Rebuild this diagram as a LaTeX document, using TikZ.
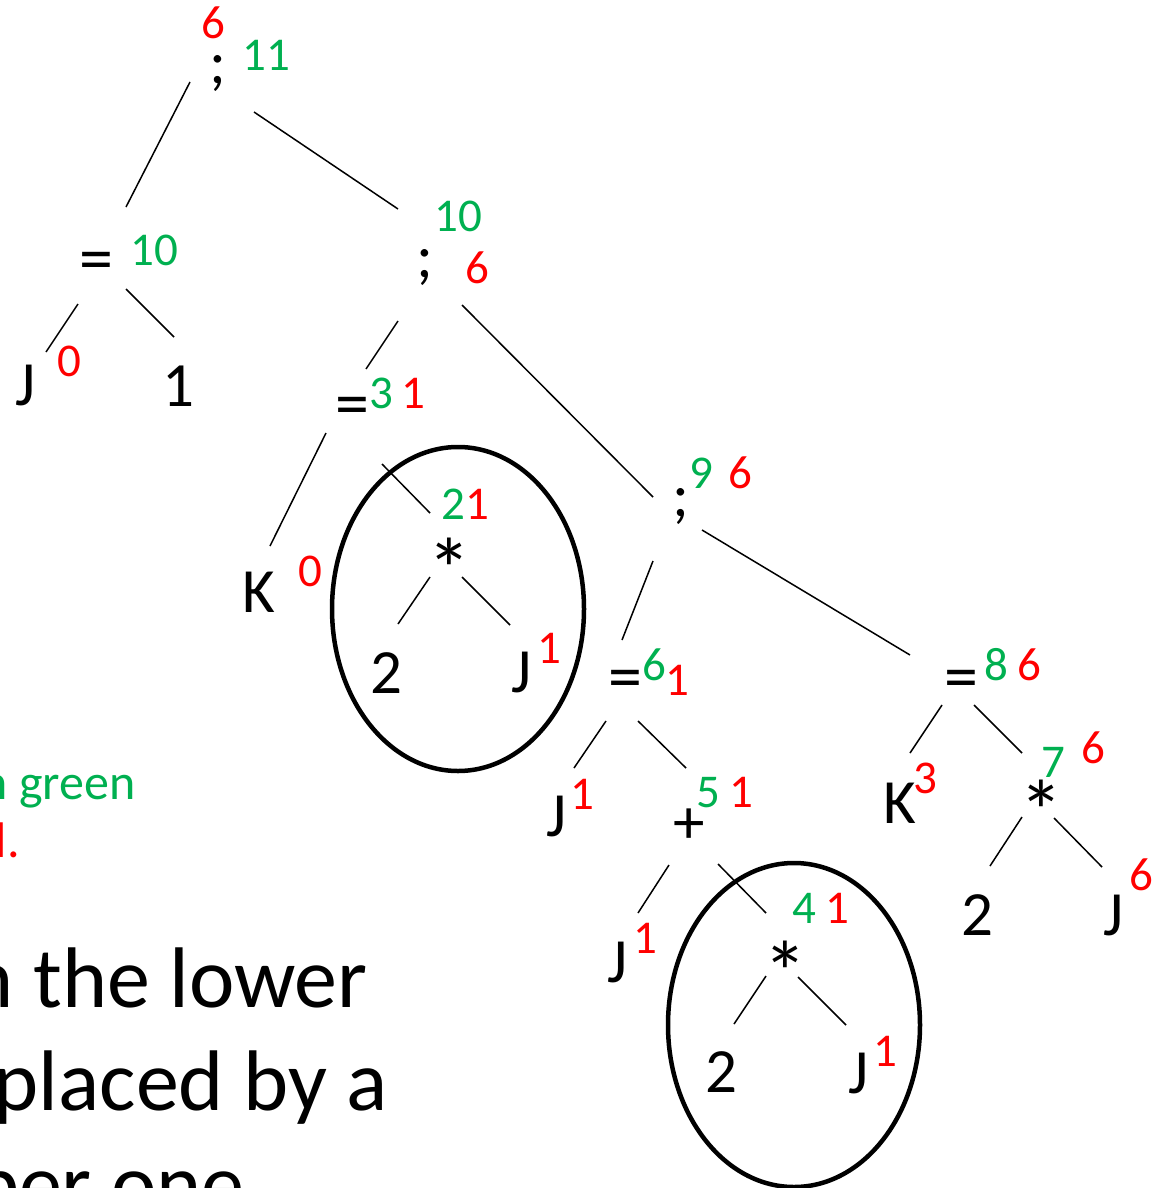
\documentclass[tikz,border=0pt]{standalone}
\usepackage{fontspec}
\setmainfont{Carlito}
\usetikzlibrary{shapes.geometric}
\definecolor{ogreen}{HTML}{00B050}
\definecolor{ored}{HTML}{FF0000}
\tikzset{
  sym/.style={font=\fontsize{63}{63}\selectfont, inner sep=0pt, anchor=base},
  eqs/.style={font=\fontsize{68}{68}\selectfont, inner sep=0pt, anchor=base},
  stars/.style={font=\fontsize{88}{88}\selectfont, inner sep=0pt, anchor=base},
  gnum/.style={font=\fontsize{47}{47}\selectfont, text=ogreen, inner sep=0pt, anchor=base},
  rnum/.style={font=\fontsize{47}{47}\selectfont, text=ored, inner sep=0pt, anchor=base},
  edge/.style={line width=1.5pt},
  ring/.style={line width=4.5pt},
  note/.style={font=\fontsize{50}{50}\selectfont, inner sep=0pt, anchor=base east},
  big/.style={font=\fontsize{86}{86}\selectfont, inner sep=0pt, anchor=base east}
}
\newcommand\seg[3]{\coordinate (#1a) at (#2); \coordinate (#1b) at (#3); \draw[edge] (#1a) -- (#1b);}
\begin{document}
\begin{tikzpicture}[x=1pt,y=-1pt]
\useasboundingbox (0,0) rectangle (1163,1188);
\clip (0,0) rectangle (1163,1188);
% black symbols
\node[sym] (root) at (217.5,84) {;};
\node[eqs] (eqA) at (96.5,281) {=};
\node[sym] (J1) at (26,405) {J};
\node[sym] (one1) at (178.5,406) {1};
\node[sym] (semB) at (425,277) {;};
\node[eqs] (eqB) at (352.5,426) {=};
\node[sym] (K1) at (258.5,612) {K};
\node[stars] (star1) at (449,600) {*};
\node[sym] (two1) at (386,693) {2};
\node[sym] (J2) at (521.5,692) {J};
\node[sym] (semC) at (681,516) {;};
\node[eqs] (eqC) at (625,699) {=};
\node[sym] (J3) at (556.5,836) {J};
\node[sym] (plus) at (689,843) {+};
\node[sym] (J4) at (617.5,982) {J};
\node[stars] (star2) at (785,1003) {*};
\node[sym] (two2) at (721,1092) {2};
\node[sym] (J5) at (858.5,1093) {J};
\node[eqs] (eqD) at (961.5,699) {=};
\node[sym] (K2) at (899.5,823) {K};
\node[stars] (star3) at (1041.5,842) {*};
\node[sym] (two3) at (977,935) {2};
\node[sym] (J6) at (1113.5,935) {J};
% attribute numbers
\node[rnum] (r1) at (213,39) {6};
\node[gnum] (g1) at (266,71) {11};
\node[gnum] (g2) at (154,265) {10};
\node[gnum] (g3) at (458.5,231) {10};
\node[rnum] (r3) at (477.5,283) {6};
\node[rnum] (r4) at (69,376) {0};
\node[gnum] (g5) at (381,408) {3};
\node[rnum] (r5) at (413.5,408) {1};
\node[rnum] (r6) at (310,586) {0};
\node[gnum] (g7) at (453,519) {2};
\node[rnum] (r7) at (477.5,519) {1};
\node[rnum] (r8) at (549.5,663) {1};
\node[gnum] (g9) at (701.5,488) {9};
\node[rnum] (r9) at (740,488) {6};
\node[gnum] (g10) at (654,680) {6};
\node[rnum] (r10) at (677.5,695) {1};
\node[rnum] (r11) at (582,809) {1};
\node[gnum] (g12) at (708,807) {5};
\node[rnum] (r12) at (741.5,807) {1};
\node[rnum] (r13) at (645,953) {1};
\node[gnum] (g14) at (804.5,923) {4};
\node[rnum] (r14) at (837.5,923) {1};
\node[rnum] (r15) at (885.5,1066) {1};
\node[gnum] (g16) at (996.5,680) {8};
\node[rnum] (r16) at (1029,680) {6};
\node[rnum] (r17) at (925,793) {3};
\node[gnum] (g18) at (1053.5,777) {7};
\node[rnum] (r18) at (1093,763) {6};
\node[rnum] (r19) at (1141.5,890) {6};
% circles
\node[draw, ring, ellipse, minimum width=252pt, minimum height=324pt, inner sep=0pt] (ov1) at (458,609) {};
\node[draw, ring, ellipse, minimum width=252pt, minimum height=324pt, inner sep=0pt] (ov2) at (794,1025) {};
% connectors
\seg{e1}{190,82}{126,207}
\seg{e2}{254,112}{398,209}
\seg{e3}{78,304}{46,352}
\seg{e4}{126,289}{174,337}
\seg{e5}{398,321}{366,369}
\seg{e6}{462,305}{653,497}
\seg{e7}{326,433}{270,546}
\seg{e8}{382,464}{430,513}
\seg{e9}{430,577}{398,624}
\seg{e10}{462,577}{510,625}
\seg{e11}{653,561}{622,640}
\seg{e12}{702,530}{910,655}
\seg{e13}{606,721}{574,768}
\seg{e14}{638,721}{686,768}
\seg{e15}{669,865}{638,913}
\seg{e16}{718,864}{766,913}
\seg{e17}{766,976}{734,1024}
\seg{e18}{798,977}{846,1025}
\seg{e19}{942,705}{910,753}
\seg{e20}{974,705}{1022,753}
\seg{e21}{1022,817}{990,866}
\seg{e22}{1054,818}{1102,867}
% side text (cut by the frame)
\node[note, text=ogreen] (tg) at (136,799) {in green};
\node[note, text=ored] (tr) at (20,857) {red.};
\node[big] (b1) at (368,1007) {in the lower};
\node[big] (b2) at (388,1110) {replaced by a};
\node[big] (b3) at (245,1213) {upper one};
\end{tikzpicture}
\end{document}
